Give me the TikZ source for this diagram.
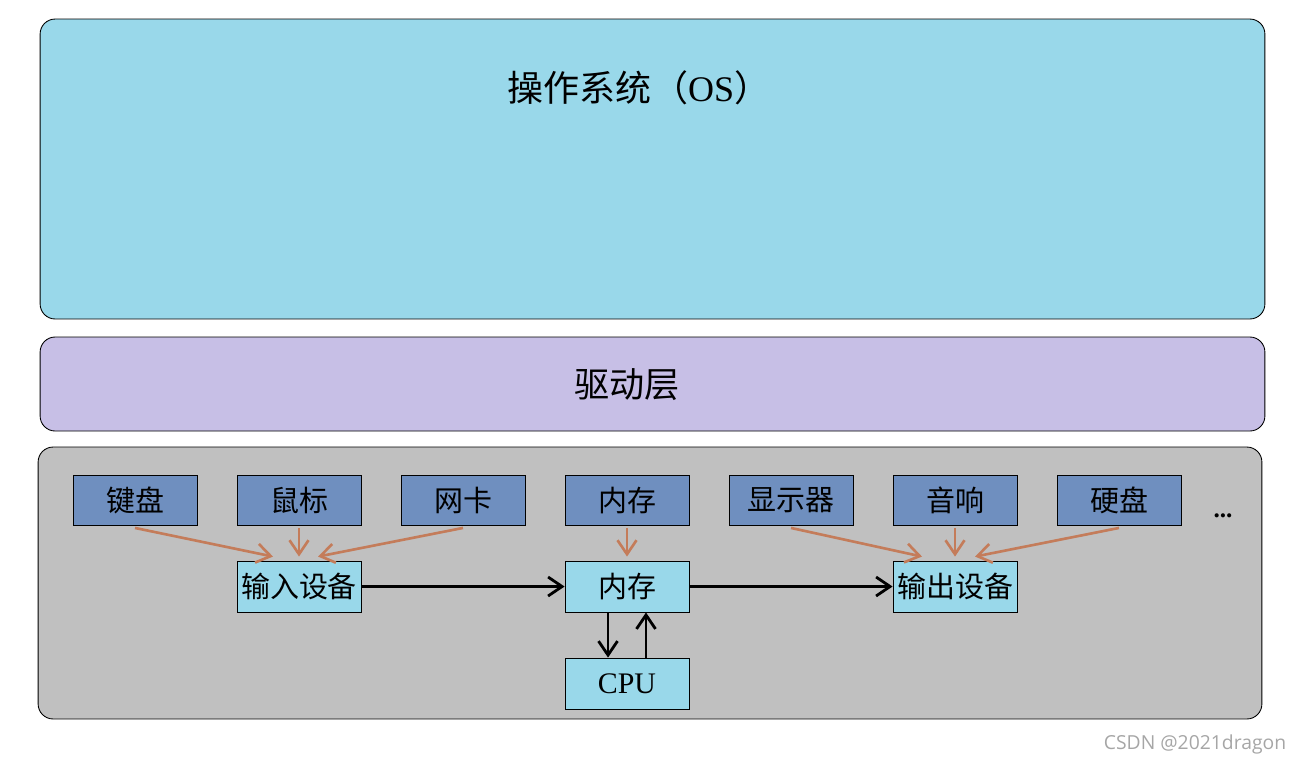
\documentclass[tikz,border=0pt]{standalone}
\usepackage{fontspec}
\setmainfont{Liberation Serif}
\newfontfamily\cjk{Noto Sans CJK SC}
\newfontfamily\markfont{Open Sans}
\usepackage{tikz}
\usetikzlibrary{arrows.meta, positioning}
\definecolor{osblue}{RGB}{153,216,234}
\definecolor{drvlilac}{RGB}{199,191,230}
\definecolor{hwgray}{RGB}{192,192,192}
\definecolor{devblue}{RGB}{111,143,191}
\definecolor{feedorange}{RGB}{196,124,90}

\begin{document}
\begin{tikzpicture}[x=0.02cm, y=-0.02cm,
    layer/.style={draw, rounded corners=3mm, line width=0.5pt,
                  minimum width=24.5cm, inner sep=0pt},
    dev/.style={draw, fill=devblue, minimum width=2.48cm, minimum height=1cm,
                inner sep=0pt, line width=0.5pt, font=\cjk\fontsize{16.5}{19}\selectfont},
    unit/.style={draw, fill=osblue, minimum width=2.48cm, minimum height=1.02cm,
                 inner sep=0pt, line width=0.5pt, font=\cjk\fontsize{16.5}{19}\selectfont},
    feed/.style={->, draw=feedorange, line width=1.5pt},
    flow/.style={->, line width=1.6pt},
    >={Straight Barb[length=2.8mm, width=3.8mm]},
]
\useasboundingbox (0,0) rectangle (1300,765);
% --- layers ------------------------------------------------------------------
\node[layer, fill=osblue, minimum height=6cm] (os) at (652.5,169) {};
\node[font=\fontsize{20.5}{24}\selectfont] (ostitle) at (639,88) {{\cjk 操作系统（}OS{\cjk ）}};
\node[layer, fill=drvlilac, minimum height=1.88cm] (drv) at (652.5,384) {};
\node[font=\cjk\fontsize{20}{24}\selectfont] (drvtitle) at (627,385) {驱动层};
\node[layer, fill=hwgray, minimum width=24.48cm, minimum height=5.44cm] (hw) at (650,583) {};
% --- devices -----------------------------------------------------------------
\node[dev] (kb)  at (135,500) {键盘};
\node[dev] (ms)  at (299,500) {鼠标};
\node[dev] (nic) at (463,500) {网卡};
\node[dev] (mem) at (627,500) {内存};
\node[dev] (scr) at (791,500) {显示器};
\node[dev] (spk) at (955,500) {音响};
\node[dev] (hdd) at (1119,500) {硬盘};
\node[font=\bfseries\Large] (more) at (1223,516) {...};
\node[unit] (in)  at (299,586.5) {输入设备};
\node[unit] (ram) at (627,586.5) {内存};
\node[unit] (out) at (955,586.5) {输出设备};
\node[unit, font=\fontsize{17}{20}\selectfont] (cpu) at (627,683.5) {CPU};
% --- arrows ------------------------------------------------------------------
\draw[feed] ([yshift=-0.5mm]kb.south)  -- ([xshift=-5.2mm, yshift=0.8mm]in.north);
\draw[feed] ([yshift=-0.5mm]ms.south)  -- ([yshift=0.8mm]in.north);
\draw[feed] ([yshift=-0.5mm]nic.south) -- ([xshift=3.8mm, yshift=0.8mm]in.north);
\draw[feed] ([yshift=-0.5mm]mem.south) -- ([yshift=0.8mm]ram.north);
\draw[feed] ([yshift=-0.5mm]scr.south) -- ([xshift=-6.6mm, yshift=0.8mm]out.north);
\draw[feed] ([yshift=-0.5mm]spk.south) -- ([yshift=0.8mm]out.north);
\draw[feed] ([yshift=-0.5mm]hdd.south) -- ([xshift=4mm, yshift=0.8mm]out.north);
\draw[flow] (in)  -- (ram);
\draw[flow] (ram) -- (out);
\draw[flow] ([xshift=-3.8mm]ram.south) -- ([xshift=-3.8mm]cpu.north);
\draw[flow] ([xshift=3.8mm]cpu.north)  -- ([xshift=3.8mm]ram.south);
% --- watermark ---------------------------------------------------------------
\node[font=\markfont\fontsize{11}{13}\selectfont, text=black!35] (mark) at (1195,744) {CSDN @2021dragon};
\end{tikzpicture}
\end{document}
